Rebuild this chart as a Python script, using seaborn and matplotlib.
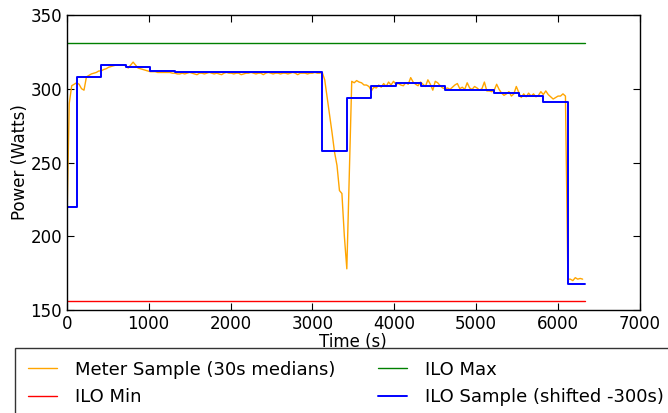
import numpy as np
import pandas as pd
import matplotlib
matplotlib.use("Agg")
import matplotlib.pyplot as plt
import seaborn as sns

# meter samples, one median every 30 s
meter_t = np.arange(0, 6330, 30)
meter_w = [
    205, 290, 302, 303, 304, 303, 300, 299, 308, 309,
    310, 310.5, 311, 312, 312, 313, 313.5, 314.5, 315, 315.5,
    316, 316, 316, 316, 315.5, 314, 316, 318, 316, 314,
    313.5, 313, 312.5, 312, 311.5, 311.5, 311.5, 311, 311, 311,
    311, 311, 311, 310.5, 310.5, 310, 310, 310.5, 310, 310.5,
    311, 310.5, 310, 309.5, 310.5, 310.5, 310, 310.5, 311, 310.5,
    310, 310.5, 310, 309.5, 310.5, 311, 310.5, 310.5, 310, 310.5,
    310.5, 309.5, 310, 310.5, 310.5, 311, 310.5, 310, 310.5, 310.5,
    309.5, 310.5, 311, 310.5, 310, 310.5, 310.5, 310, 310.5, 310.5,
    310, 310.5, 311, 310.5, 309.5, 310.5, 310.5, 310.5, 310, 310.5,
    310.5, 311, 310.5, 310.5, 311, 306, 294, 282, 270, 257,
    248, 231, 229, 200, 178, 241, 305, 304, 305.5, 304.5,
    304, 302.5, 302.5, 301.5, 298.5, 301, 300.5, 302.5, 301, 303.5,
    301.5, 304.5, 302.5, 305, 303, 303.5, 302.5, 302, 304, 303,
    307.5, 304.5, 303, 302, 304.5, 303, 301.5, 306, 303, 299,
    305, 304, 302, 300.5, 300, 300.5, 299.5, 301, 302.5, 303.5,
    300, 301, 299.5, 304, 300.5, 299.5, 301.5, 300.5, 299, 300,
    304.5, 298.5, 298.5, 298, 299, 303, 299.5, 297, 295.5, 296.5,
    298, 295, 296.5, 301.5, 297.5, 294, 296.5, 294.5, 297, 295,
    296.5, 294.5, 295.5, 298, 296, 298.5, 296, 294.5, 293, 294,
    295, 295, 296.5, 295, 171, 171, 170, 172, 171, 171.5,
    171,
]

# ILO readings (5 min averages), shifted back by 300 s
ilo_t = [0, 120, 420, 720, 1020, 1320, 1620, 1920, 2220, 2520, 2820,
         3120, 3420, 3720, 4020, 4320, 4620, 4920, 5220, 5520, 5820,
         6120, 6330]
ilo_w = [220, 308, 316, 315, 312, 311, 311, 311, 311, 311, 311,
         258, 294, 302, 304, 302, 299, 299, 297, 295, 291,
         168, 168]

ilo_min = 156
ilo_max = 331
span = [0, 6330]

sns.set_style("ticks")
plt.rcParams['font.family'] = ['DejaVu Sans']
plt.rcParams['xtick.direction'] = 'in'
plt.rcParams['ytick.direction'] = 'in'
plt.rcParams['text.color'] = 'black'
plt.rcParams['axes.labelcolor'] = 'black'

fig = plt.figure(figsize=(6.68, 4.13), dpi=100)
ax = fig.add_axes([0.100, 0.249, 0.858, 0.715])

meter = pd.DataFrame({"t": meter_t, "w": meter_w})
ilo = pd.DataFrame({"t": ilo_t, "w": ilo_w})
lims = pd.DataFrame({"t": span, "lo": [ilo_min] * 2, "hi": [ilo_max] * 2})

sns.lineplot(data=meter, x="t", y="w", ax=ax, color="orange", lw=1.0,
             estimator=None, label="Meter Sample (30s medians)")
sns.lineplot(data=lims, x="t", y="lo", ax=ax, color="red", lw=1.0,
             estimator=None, label="ILO Min")
sns.lineplot(data=lims, x="t", y="hi", ax=ax, color="green", lw=1.0,
             estimator=None, label="ILO Max")
sns.lineplot(data=ilo, x="t", y="w", ax=ax, color="blue", lw=1.4,
             estimator=None, drawstyle="steps-post",
             label="ILO Sample (shifted -300s)")

ax.set_xlim(0, 7000)
ax.set_ylim(150, 350)
ax.set_xticks(range(0, 7001, 1000))
ax.set_yticks(range(150, 351, 50))
ax.tick_params(top=True, right=True, labelsize=12, length=5, width=0.8,
               colors='black')
for s in ax.spines.values():
    s.set_visible(True)
    s.set_color('black')
    s.set_linewidth(1.0)
ax.set_xlabel("Time (s)", fontsize=12, labelpad=0)
ax.set_ylabel("Power (Watts)", fontsize=12, labelpad=1)

handles, labels = ax.get_legend_handles_labels()
ax.get_legend().remove()
leg = fig.legend(handles, labels, loc="upper left",
                 bbox_to_anchor=(0.0225, 0.157), ncol=2, fontsize=13,
                 frameon=True, fancybox=False, handlelength=1.6,
                 handletextpad=1.0, borderpad=0.7, labelspacing=0.5,
                 columnspacing=2.4, borderaxespad=0)
leg.get_frame().set_edgecolor('black')
leg.get_frame().set_linewidth(1.0)
for txt in leg.get_texts():
    txt.set_color('black')

fig.savefig("out.png", dpi=100)
